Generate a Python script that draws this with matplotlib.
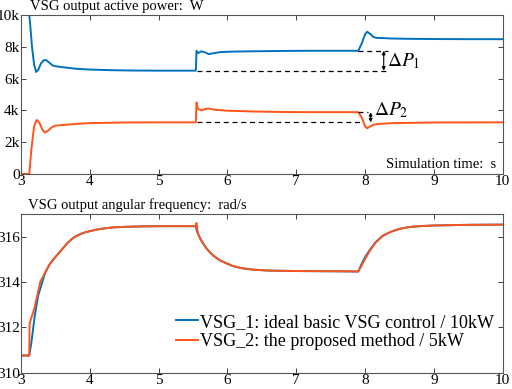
import matplotlib
matplotlib.use("Agg")
import matplotlib.pyplot as plt

plt.rcParams['font.family'] = 'serif'
plt.rcParams['font.serif'] = ['Liberation Serif', 'DejaVu Serif']
plt.rcParams['mathtext.fontset'] = 'stix'

BLUE = '#0072BD'
ORANGE = '#FF5419'

# ---- top panel: active power (W) ----
t_p1 = [3.0, 3.12, 3.13, 3.16, 3.19, 3.22, 3.25, 3.29, 3.33, 3.36, 3.40, 3.45, 3.5, 3.6, 3.8,
        4.0, 4.3, 4.6, 5.0, 5.54, 5.55, 5.57, 5.62, 5.67, 5.73, 5.8, 5.9, 6.1, 6.4, 6.8, 7.2,
        7.6, 7.9, 7.95, 8.0, 8.03, 8.07, 8.12, 8.17, 8.25, 8.4, 8.7, 9.0, 9.5, 10.0]
p1 = [10000, 10000, 9600, 8000, 6900, 6420, 6550, 6950, 7150, 7170, 7050, 6850, 6780, 6720, 6620,
      6570, 6530, 6510, 6500, 6500, 7750, 7600, 7720, 7650, 7540, 7600, 7670, 7700, 7720, 7740, 7750,
      7750, 7750, 8200, 8800, 8950, 8820, 8620, 8560, 8550, 8520, 8500, 8490, 8480, 8480]

t_p2 = [3.0, 3.12, 3.15, 3.19, 3.23, 3.27, 3.31, 3.35, 3.40, 3.45, 3.5, 3.6, 3.8, 4.0, 4.5,
        5.0, 5.54, 5.55, 5.57, 5.62, 5.67, 5.72, 5.8, 6.0, 6.4, 6.8, 7.2, 7.9, 7.95, 8.0,
        8.03, 8.07, 8.12, 8.2, 8.4, 8.7, 9.0, 10.0]
p2 = [0, 0, 1500, 3000, 3400, 3200, 2800, 2600, 2750, 2950, 3040, 3080, 3150, 3200, 3240,
      3250, 3250, 4500, 4100, 4000, 4080, 4120, 4050, 3980, 3930, 3900, 3890, 3890, 3550, 3000,
      2880, 2980, 3100, 3150, 3200, 3220, 3240, 3250]

# ---- bottom panel: angular frequency (rad/s) ----
t_w1 = [3.0, 3.12, 3.15, 3.2, 3.25, 3.3, 3.35, 3.42, 3.5, 3.6, 3.67, 3.74, 3.8, 3.87, 3.93, 4.0, 4.1, 4.2, 4.35, 4.5, 4.75, 5.0,
        5.54, 5.56, 5.6, 5.65, 5.7, 5.75, 5.8, 5.89, 6.0, 6.08, 6.2, 6.37, 6.6, 7.0, 7.5, 7.9, 7.95, 8.0,
        8.07, 8.15, 8.26, 8.38, 8.5, 8.6, 8.7, 8.85, 8.99, 9.5, 10.0]
w1 = [310.75, 310.75, 311.3, 312.5, 313.4, 313.9, 314.4, 314.8, 315.1, 315.45, 315.7, 315.9, 316.02, 316.12, 316.19, 316.24, 316.31, 316.36, 316.41, 316.43, 316.45, 316.46,
      316.46, 316.2, 315.95, 315.68, 315.46, 315.29, 315.15, 314.95, 314.8, 314.7, 314.61, 314.54, 314.5, 314.48, 314.47, 314.46, 314.8, 315.1,
      315.42, 315.75, 316.05, 316.22, 316.34, 316.4, 316.44, 316.47, 316.49, 316.52, 316.53]

t_w2 = [3.0, 3.12, 3.125, 3.2, 3.28, 3.35, 3.42, 3.5, 3.6, 3.67, 3.74, 3.8, 3.87, 3.93, 4.0, 4.1, 4.2, 4.35, 4.5, 4.75, 5.0,
        5.54, 5.55, 5.57, 5.6, 5.65, 5.7, 5.75, 5.8, 5.89, 6.0, 6.08, 6.2, 6.37, 6.6, 7.0, 7.5, 7.9, 7.95, 8.0,
        8.07, 8.15, 8.26, 8.38, 8.5, 8.6, 8.7, 8.85, 8.99, 9.5, 10.0]
w2 = [310.75, 310.75, 312.16, 312.9, 314.0, 314.4, 314.8, 315.1, 315.45, 315.7, 315.9, 316.02, 316.12, 316.19, 316.24, 316.31, 316.36, 316.41, 316.43, 316.45, 316.46,
      316.46, 316.6, 316.15, 315.92, 315.68, 315.46, 315.29, 315.15, 314.95, 314.8, 314.7, 314.61, 314.54, 314.5, 314.48, 314.47, 314.46, 314.72, 315.02,
      315.38, 315.72, 316.04, 316.22, 316.34, 316.4, 316.44, 316.47, 316.49, 316.52, 316.53]

p_ticks = [0, 2000, 4000, 6000, 8000, 10000]
p_labels = ['0', '2k', '4k', '6k', '8k', '10k']
w_ticks = [310, 312, 314, 316]
x_ticks = [3, 4, 5, 6, 7, 8, 9, 10]

legend_labels = ['VSG_1: ideal basic VSG control / 10kW', 'VSG_2: the proposed method / 5kW']

fig = plt.figure(figsize=(5.12, 3.89), dpi=100)
ax1 = fig.add_axes([0.041, 0.5527, 0.941, 0.4087])
ax2 = fig.add_axes([0.041, 0.0424, 0.941, 0.4076])

for ax in (ax1, ax2):
    ax.set_xlim(3, 10)
    ax.set_xticks(x_ticks)
    ax.tick_params(direction='in', top=True, right=True, labelsize=11, length=3.5,
                   width=0.7, color='#404040', pad=1)
    for s in ax.spines.values():
        s.set_color('#555555')
        s.set_linewidth(0.8)

ax1.plot(t_p1, p1, color=BLUE, lw=1.4)
ax1.plot(t_p2, p2, color=ORANGE, lw=1.4)
ax1.set_ylim(0, 10000)
ax1.set_yticks(p_ticks)
ax1.set_yticklabels(p_labels)

dash = dict(color='black', lw=0.9, ls=(0, (4, 3)))
ax1.plot([5.55, 8.34], [6500, 6500], **dash)
ax1.plot([7.9, 8.33], [7750, 7750], **dash)
ax1.plot([5.55, 7.96], [3250, 3250], **dash)
ax1.plot([7.9, 8.04], [3890, 3890], **dash)

arr = dict(arrowstyle='<|-|>', color='black', lw=0.8, mutation_scale=5, shrinkA=0, shrinkB=0)
ax1.annotate('', xy=(8.27, 6500), xytext=(8.27, 7750), arrowprops=arr)
ax1.annotate('', xy=(8.08, 3250), xytext=(8.08, 3890), arrowprops=arr)
ax1.text(8.32, 7100, r'$\Delta P_1$', fontsize=14, va='center', ha='left')
ax1.text(8.13, 4000, r'$\Delta P_2$', fontsize=14, va='center', ha='left')
ax1.text(9.9, 580, 'Simulation time:  s', fontsize=10.5, ha='right', va='center')

ax2.plot(t_w1, w1, color=BLUE, lw=1.4, label=legend_labels[0])
ax2.plot(t_w2, w2, color=ORANGE, lw=1.4, label=legend_labels[1])
ax2.set_ylim(310, 317)
ax2.set_yticks(w_ticks)

fig.text(0.058, 0.984, 'VSG output active power:  W', fontsize=10.5, ha='left', va='center')
fig.text(0.055, 0.473, 'VSG output angular frequency:  rad/s', fontsize=10.5, ha='left', va='center')

ax2.legend(loc='center left', bbox_to_anchor=(0.322, 0.255), frameon=False, fontsize=13.0,
           handlelength=1.2, handletextpad=0.12, labelspacing=0.15, borderpad=0,
           borderaxespad=0)

fig.savefig('out.png', dpi=100)
